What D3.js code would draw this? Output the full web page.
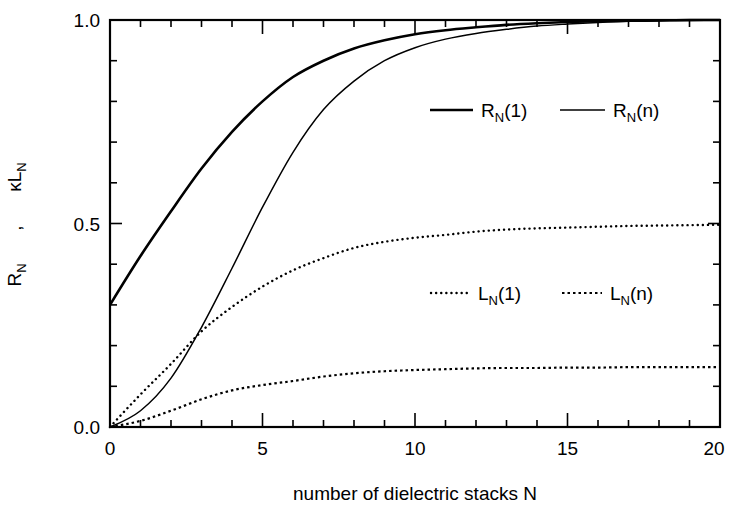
<!DOCTYPE html>
<html><head><meta charset="utf-8">
<script src="https://cdn.jsdelivr.net/npm/d3@7"></script>
<style>body{margin:0;background:#fff}svg{display:block}text{font-family:"Liberation Sans",Arial,sans-serif;fill:#000}</style>
</head><body><svg id="c" width="729" height="515"></svg>
<script>
const stacksN = [0,1,2,3,4,5,6,7,8,9,10,11,12,13,14,15,16,17,18,19,20];
const R1 = [0.30,0.42,0.53,0.635,0.725,0.80,0.86,0.90,0.93,0.95,0.965,0.975,0.982,0.988,0.992,0.995,0.997,0.998,0.999,1.0,1.0];
const Rn = [0.0,0.04,0.12,0.245,0.39,0.54,0.675,0.78,0.85,0.90,0.932,0.953,0.967,0.977,0.985,0.99,0.994,0.997,0.998,0.999,1.0];
const L1 = [0.0,0.08,0.155,0.235,0.295,0.345,0.385,0.415,0.44,0.455,0.465,0.472,0.48,0.485,0.488,0.49,0.492,0.494,0.495,0.496,0.497];
const Ln = [0.0,0.015,0.04,0.068,0.09,0.103,0.113,0.124,0.132,0.137,0.14,0.142,0.144,0.145,0.145,0.146,0.146,0.147,0.147,0.147,0.147];
const xMajor = [0,5,10,15,20];
const yMajor = [0.0,0.5,1.0];

const svg = d3.select("#c");
const m = {l:110, r:720, t:20, b:427};
const x = d3.scaleLinear().domain([0,20]).range([m.l,m.r]);
const y = d3.scaleLinear().domain([0,1]).range([m.b,m.t]);

const xMinor = d3.range(0,21,1);
const yMinor = d3.range(0,1.0001,0.1);
const g = svg.append("g");
function isMajorX(v){return xMajor.includes(v);}
function isMajorY(v){return yMajor.some(t=>Math.abs(t-v)<1e-6);}
xMinor.forEach(v=>{
  const L = isMajorX(v)?14:7;
  g.append("line").attr("x1",x(v)).attr("x2",x(v)).attr("y1",m.b).attr("y2",m.b-L).attr("stroke","#000").attr("stroke-width",1.6);
  g.append("line").attr("x1",x(v)).attr("x2",x(v)).attr("y1",m.t).attr("y2",m.t+L).attr("stroke","#000").attr("stroke-width",1.6);
});
yMinor.forEach(v=>{
  const L = isMajorY(v)?12:7;
  g.append("line").attr("y1",y(v)).attr("y2",y(v)).attr("x1",m.l).attr("x2",m.l+L).attr("stroke","#000").attr("stroke-width",1.6);
  g.append("line").attr("y1",y(v)).attr("y2",y(v)).attr("x1",m.r).attr("x2",m.r-L).attr("stroke","#000").attr("stroke-width",1.6);
});
svg.append("rect").attr("x",m.l).attr("y",m.t).attr("width",m.r-m.l).attr("height",m.b-m.t)
  .attr("fill","none").attr("stroke","#000").attr("stroke-width",2.2);

xMajor.forEach(v=>{
  svg.append("text").attr("x",x(v) - (v===20?6:0)).attr("y",m.b+28).attr("text-anchor","middle")
    .attr("font-size",19).text(v);
});
yMajor.forEach(v=>{
  svg.append("text").attr("x",m.l-10).attr("y",y(v)+7).attr("text-anchor","end")
    .attr("font-size",19).text(v.toFixed(1));
});

const line = d3.line().x((d,i)=>x(stacksN[i])).y(d=>y(d)).curve(d3.curveMonotoneX);
svg.append("path").datum(R1).attr("d",line).attr("fill","none").attr("stroke","#000").attr("stroke-width",2.6);
svg.append("path").datum(Rn).attr("d",line).attr("fill","none").attr("stroke","#000").attr("stroke-width",1.5);
svg.append("path").datum(L1).attr("d",line).attr("fill","none").attr("stroke","#000").attr("stroke-width",2.4)
  .attr("stroke-dasharray","0.1,5").attr("stroke-linecap","round");
svg.append("path").datum(Ln).attr("d",line).attr("fill","none").attr("stroke","#000").attr("stroke-width",2.2)
  .attr("stroke-dasharray","2.5,3");

function legItem(x1,x2,yy,style,label){
  const l = svg.append("line").attr("x1",x1).attr("x2",x2).attr("y1",yy).attr("y2",yy).attr("stroke","#000");
  style(l);
  const t = svg.append("text").attr("x",x2+8).attr("y",yy+7).attr("font-size",19);
  t.append("tspan").text(label[0]);
  t.append("tspan").attr("font-size",13).attr("dy",5).text("N");
  t.append("tspan").attr("dy",-5).text(label[1]);
}
legItem(430,473,110,l=>l.attr("stroke-width",2.6),["R","(1)"]);
legItem(560,605,110,l=>l.attr("stroke-width",1.5),["R","(n)"]);
legItem(431,470,293,l=>l.attr("stroke-width",2.4).attr("stroke-dasharray","0.1,5").attr("stroke-linecap","round"),["L","(1)"]);
legItem(562,602,293,l=>l.attr("stroke-width",2.0).attr("stroke-dasharray","2.5,3"),["L","(n)"]);

svg.append("text").attr("x",(m.l+m.r)/2).attr("y",500).attr("text-anchor","middle").attr("font-size",19)
  .text("number of dielectric stacks N");
// y title: "R_N ,      κL_N" spread along the axis
const yt1 = svg.append("text").attr("transform","translate(21,275) rotate(-90)").attr("text-anchor","middle").attr("font-size",19);
yt1.append("tspan").text("R");
yt1.append("tspan").attr("font-size",13).attr("dy",5).text("N");
svg.append("text").attr("transform","translate(21,228) rotate(-90)").attr("text-anchor","middle").attr("font-size",19).text(",");
const yt2 = svg.append("text").attr("transform","translate(21,177) rotate(-90)").attr("text-anchor","middle").attr("font-size",19);
yt2.append("tspan").text("κL");
yt2.append("tspan").attr("font-size",13).attr("dy",5).text("N");
</script></body></html>
